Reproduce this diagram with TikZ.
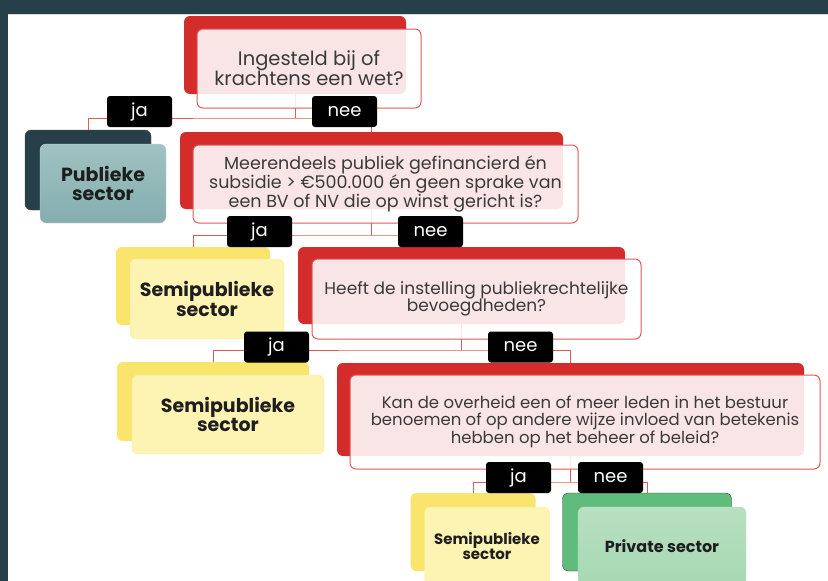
\documentclass[tikz,border=0pt]{standalone}
\usepackage{fontspec}
\setmainfont{Poppins}

\definecolor{frame}{HTML}{263F48}
\definecolor{qred}{HTML}{D42B2B}
\definecolor{qline}{HTML}{E05A5A}
\definecolor{qtext}{HTML}{3A3A3A}
\definecolor{stext}{HTML}{1E1E1E}
\definecolor{ylback}{HTML}{F9E46C}
\definecolor{ylfront}{HTML}{FDF3B2}
\definecolor{grback}{HTML}{5FBC7C}
\definecolor{grfront}{HTML}{A6D8B2}

\tikzset{
  redback/.style={fill=qred, rounded corners=6pt},
  question/.style={draw=qline, line width=1pt, fill=white, fill opacity=0.88, text opacity=1,
    text=qtext, rounded corners=6pt, align=center, font=\fontsize{17}{17.5}\selectfont},
  conn/.style={draw=qline, line width=1pt},
  answer/.style={fill=black, text=white, rounded corners=3pt, minimum width=65pt,
    minimum height=31pt, font=\fontsize{18}{18}\selectfont},
  sector/.style={rounded corners=6pt, align=center, text=stext, font=\bfseries\fontsize{19}{19.5}\selectfont}
}

\begin{document}
\begin{tikzpicture}[x=1pt, y=-1pt]
\useasboundingbox (0,0) rectangle (828,581);
\fill[frame] (0,0) rectangle (828,581);
\fill[white] (8,14) rectangle (828,581);
\draw[black!15, line width=1pt] (8,14.5) -- (828,14.5);

% back boxes
\node[redback, minimum width=222pt, minimum height=78pt] (q1b) at (295,55) {};
\node[fill=frame, draw=black!70, rounded corners=6pt, minimum width=126pt, minimum height=80pt] (pubb) at (88,170) {};
\node[redback, minimum width=383pt, minimum height=77pt] (q2b) at (371.5,170.5) {};
\node[fill=ylback, rounded corners=6pt, minimum width=154pt, minimum height=78pt] (semi1b) at (193,286) {};
\node[redback, minimum width=327pt, minimum height=77pt] (q3b) at (461.5,285.5) {};
\node[fill=ylback, rounded corners=6pt, minimum width=192pt, minimum height=79pt] (semi2b) at (213,401.5) {};
\node[redback, minimum width=467pt, minimum height=93pt] (q4b) at (570.5,409.5) {};
\node[fill=ylback, rounded corners=6pt, minimum width=125pt, minimum height=78pt] (semi3b) at (473,532) {};
\node[fill=grback, draw=black!60!grback, rounded corners=6pt, minimum width=169pt, minimum height=78pt] (privb) at (647,532) {};

% connectors
\coordinate (j1) at (295,118);
\coordinate (j2) at (371.5,235);
\coordinate (j3) at (461.5,350);
\coordinate (j4) at (570.5,482);
\draw[conn] (q1b.south) -- (j1);
\draw[conn] (pubb.north) |- (j1) -| (q2b.north);
\draw[conn] (q2b.south) -- (j2);
\draw[conn] (semi1b.north) |- (j2) -| (q3b.north);
\draw[conn] (q3b.south) -- (j3);
\draw[conn] (semi2b.north) |- (j3) -| (q4b.north);
\draw[conn] (q4b.south) -- (j4);
\draw[conn] (semi3b.north) |- (j4) -| (privb.north);

% front boxes
\node[question, minimum width=224pt, minimum height=79pt, font=\fontsize{19.5}{20}\selectfont] (q1) at (309,68.5)
  {Ingesteld bij of\\krachtens een wet?};
\node[sector, top color=black!8!cyan!25!gray!60, bottom color=cyan!20!gray!80, draw=white!70!gray,
  minimum width=126pt, minimum height=79pt] (pub) at (103,183.5) {Publieke\\sector};
\node[question, minimum width=385pt, minimum height=78pt, font=\fontsize{17.5}{17.5}\selectfont] (q2) at (385.5,184)
  {Meerendeels publiek gefinancierd én\\subsidie > €500.000 én geen sprake van\\een BV of NV die op winst gericht is?};
\node[sector, fill=ylfront, draw=ylfront!80!ylback, minimum width=154pt, minimum height=80pt] (semi1) at (207,299)
  {Semipublieke\\sector};
\node[question, minimum width=329pt, minimum height=80pt] (q3) at (476.5,299)
  {Heeft de instelling publiekrechtelijke\\bevoegdheden?};
\node[sector, fill=ylfront, draw=ylfront!80!ylback, minimum width=192pt, minimum height=79pt] (semi2) at (228,414.5)
  {Semipublieke\\sector};
\node[question, minimum width=470pt, minimum height=94pt, font=\fontsize{16.5}{16.5}\selectfont] (q4) at (585,422)
  {Kan de overheid een of meer leden in het bestuur\\benoemen of op andere wijze invloed van betekenis\\hebben op het beheer of beleid?};
\node[sector, fill=ylfront, draw=ylfront!80!ylback, minimum width=125pt, minimum height=78pt,
  font=\bfseries\fontsize{15}{15}\selectfont] (semi3) at (487,546) {Semipublieke\\sector};
\node[sector, top color=grfront!80!white, bottom color=grfront, draw=grfront!80!white, minimum width=168pt, minimum height=78pt,
  font=\bfseries\fontsize{16}{16}\selectfont] (priv) at (662,546) {Private sector};

% answers
\node[answer] (ja1) at (139.5,111.5) {ja};
\node[answer] (nee1) at (344.5,111.5) {nee};
\node[answer] (ja2) at (259.5,231.5) {ja};
\node[answer] (nee2) at (430.5,231.5) {nee};
\node[answer] (ja3) at (276.5,347) {ja};
\node[answer] (nee3) at (520.5,347) {nee};
\node[answer] (ja4) at (518.5,477.5) {ja};
\node[answer] (nee4) at (610.5,477.5) {nee};

\end{tikzpicture}
\end{document}
